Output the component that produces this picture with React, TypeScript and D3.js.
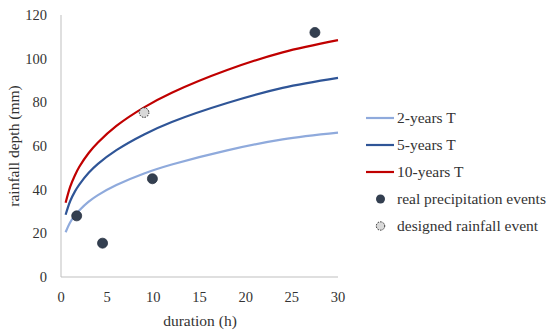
import React from "react";
import * as d3 from "d3";

const durations = [0.5, 1, 1.5, 2, 3, 4, 6, 9, 12, 18, 24, 30];
const depth2yr = [20.5, 25.1, 28.2, 30.6, 34.5, 37.5, 42.1, 47.4, 51.5, 58.0, 63.0, 66.1];
const depth5yr = [28.5, 34.8, 39.1, 42.4, 47.7, 51.8, 58.1, 65.3, 71.0, 79.7, 86.6, 91.2];
const depth10yr = [34.0, 41.4, 46.5, 50.6, 56.8, 61.6, 69.2, 77.7, 84.4, 94.8, 102.9, 108.5];
const realEventsX = [1.7, 4.5, 9.9, 27.5];
const realEventsY = [28, 15.5, 45, 112];
const designedX = [9];
const designedY = [75.3];
const xTicks = [0, 5, 10, 15, 20, 25, 30];
const yTicks = [0, 20, 40, 60, 80, 100, 120];
const seriesNames = ["2-years T", "5-years T", "10-years T"];
const seriesColors = ["#8FAADC", "#2F5597", "#C00000"];

const FONT = "'Liberation Serif', serif";

export default function App() {
  const W = 550, H = 334;
  const x = d3.scaleLinear().domain([0, 30]).range([61, 338]);
  const y = d3.scaleLinear().domain([0, 120]).range([277, 15]);
  const line = d3
    .line<number>()
    .x((_, i) => x(durations[i]))
    .y((d) => y(d))
    .curve(d3.curveCatmullRom.alpha(0.5));
  const series = [depth2yr, depth5yr, depth10yr];
  const legendY0 = 118;
  const legendStep = 27;
  const fs = 15.5;
  return (
    <svg width={W} height={H} style={{ position: "absolute", left: 0, top: 0 }} fontFamily={FONT}>
      <rect width={W} height={H} fill="#fff" />
      <line x1={x(0)} x2={x(0)} y1={y(120)} y2={y(0)} stroke="#BFBFBF" strokeWidth={1} />
      <line x1={x(0)} x2={x(30)} y1={y(0)} y2={y(0)} stroke="#BFBFBF" strokeWidth={1} />
      {yTicks.map((t) => (
        <text key={"y" + t} x={47} y={y(t)} dy="0.35em" textAnchor="end" fontSize={14.5} fill="#333">
          {t}
        </text>
      ))}
      {xTicks.map((t) => (
        <text key={"x" + t} x={x(t)} y={302} textAnchor="middle" fontSize={14.5} fill="#333">
          {t}
        </text>
      ))}
      <text x={200} y={326} textAnchor="middle" fontSize={fs} fill="#333">
        duration (h)
      </text>
      <text
        transform={`translate(19,146) rotate(-90)`}
        textAnchor="middle"
        fontSize={fs}
        fill="#333"
      >
        rainfall depth (mm)
      </text>
      {series.map((s, i) => (
        <path key={i} d={line(s) || ""} fill="none" stroke={seriesColors[i]} strokeWidth={2.2} />
      ))}
      {realEventsX.map((d, i) => (
        <circle key={"r" + i} cx={x(d)} cy={y(realEventsY[i])} r={5} fill="#333F50" stroke="#2A3444" strokeWidth={0.8} />
      ))}
      {designedX.map((d, i) => (
        <circle
          key={"d" + i}
          cx={x(d)}
          cy={y(designedY[i])}
          r={4.8}
          fill="#D9D9D9"
          stroke="#222"
          strokeWidth={1}
          strokeDasharray="1.5,1.2"
        />
      ))}
      {seriesNames.map((n, i) => (
        <g key={"l" + i}>
          <line
            x1={366}
            x2={394}
            y1={legendY0 + i * legendStep}
            y2={legendY0 + i * legendStep}
            stroke={seriesColors[i]}
            strokeWidth={2.2}
          />
          <text x={397} y={legendY0 + i * legendStep} dy="0.35em" fontSize={fs} fill="#333">
            {n}
          </text>
        </g>
      ))}
      <circle cx={380.5} cy={legendY0 + 3 * legendStep} r={4.5} fill="#333F50" />
      <text x={397} y={legendY0 + 3 * legendStep} dy="0.35em" fontSize={fs} fill="#333">
        real precipitation events
      </text>
      <circle
        cx={380.5}
        cy={legendY0 + 4 * legendStep}
        r={4.2}
        fill="#D9D9D9"
        stroke="#222"
        strokeWidth={1}
        strokeDasharray="1.5,1.2"
      />
      <text x={397} y={legendY0 + 4 * legendStep} dy="0.35em" fontSize={fs} fill="#333">
        designed rainfall event
      </text>
    </svg>
  );
}
